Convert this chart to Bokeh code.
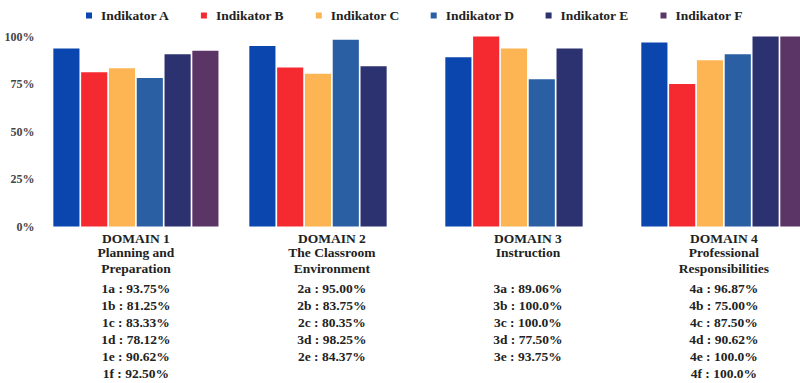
from bokeh.plotting import figure
from bokeh.models import ColumnDataSource, FixedTicker, Range1d
from bokeh.core.properties import value
from bokeh.embed import file_html
from bokeh.resources import INLINE

# ---------------- data ----------------
domains = ["DOMAIN 1", "DOMAIN 2", "DOMAIN 3", "DOMAIN 4"]
subtitles = [["Planning and", "Preparation"],
             ["The Classroom", "Environment"],
             ["Instruction"],
             ["Professional", "Responsibilities"]]
indicators = ["Indikator A", "Indikator B", "Indikator C", "Indikator D", "Indikator E", "Indikator F"]
ind_a = [93.75, 95.00, 89.06, 96.87]
ind_b = [81.25, 83.75, 100.0, 75.00]
ind_c = [83.33, 80.35, 93.75, 87.50]
ind_d = [78.12, 98.25, 77.50, 90.62]
ind_e = [90.62, 84.37, 93.75, 100.0]
ind_f = [92.50, None, None, 100.0]
value_labels = [
    ["1a : 93.75%", "1b : 81.25%", "1c : 83.33%", "1d : 78.12%", "1e : 90.62%", "1f : 92.50%"],
    ["2a : 95.00%", "2b : 83.75%", "2c : 80.35%", "3d : 98.25%", "2e : 84.37%"],
    ["3a : 89.06%", "3b : 100.0%", "3c : 100.0%", "3d : 77.50%", "3e : 93.75%"],
    ["4a : 96.87%", "4b : 75.00%", "4c : 87.50%", "4d : 90.62%", "4e : 100.0%", "4f : 100.0%"],
]
y_ticks = [0, 25, 50, 75, 100]
y_tick_labels = ["0%", "25%", "50%", "75%", "100%"]
colors = ["#0b45ae", "#f52a30", "#fdb452", "#2a60a3", "#2c3170", "#5b3566"]

# ---------------- layout ----------------
W, H = 800, 383
FRAME_LEFT = 45
PX_PER_SLOT = 27.8
FIRST_BAR_PX = 52
GROUP_PITCH = 7.05
ZERO_PX = 226          # screen y of 0%
PX_PER_PCT = 1.9
SERIF = "Liberation Serif"
LEGEND_X0_PX = 88.5    # first legend swatch centre
LEGEND_PITCH_PX = 114.9
LEGEND_Y_PX = 15

x_start = (FRAME_LEFT - FIRST_BAR_PX) / PX_PER_SLOT
x_end = x_start + (W - FRAME_LEFT) / PX_PER_SLOT
y_end = ZERO_PX / PX_PER_PCT
y_start = -(H - ZERO_PX) / PX_PER_PCT


def py_to_data(py):
    return (ZERO_PX - py) / PX_PER_PCT


def px_to_data(px):
    return (px - FIRST_BAR_PX) / PX_PER_SLOT


p = figure(width=W, height=H, output_backend="svg", toolbar_location=None,
           x_range=Range1d(x_start, x_end), y_range=Range1d(y_start, y_end),
           min_border_left=FRAME_LEFT, min_border_right=0, min_border_top=0,
           min_border_bottom=0)
p.outline_line_color = None
p.xgrid.visible = False
p.ygrid.visible = False
p.xaxis.visible = False
p.yaxis.ticker = FixedTicker(ticks=y_ticks)
p.yaxis.major_label_overrides = {t: l for t, l in zip(y_ticks, y_tick_labels)}
p.yaxis.axis_line_color = None
p.yaxis.major_tick_line_color = None
p.yaxis.minor_tick_line_color = None
p.yaxis.major_label_standoff = 5
p.yaxis.major_label_text_font = SERIF
p.yaxis.major_label_text_font_style = "bold"
p.yaxis.major_label_text_font_size = "12px"
p.yaxis.major_label_text_color = "#444444"

series = [ind_a, ind_b, ind_c, ind_d, ind_e, ind_f]
for j, (name, vals, col) in enumerate(zip(indicators, series, colors)):
    xs, tops = [], []
    for g, v in enumerate(vals):
        if v is None:
            continue
        xs.append(g * GROUP_PITCH + j + 0.5)
        tops.append(v)
    src = ColumnDataSource(dict(x=xs, top=tops))
    p.vbar(x="x", top="top", bottom=0, width=0.94, source=src,
           fill_color=col, line_color=None)

# legend (swatches + labels) drawn along the top
lx = [px_to_data(LEGEND_X0_PX + LEGEND_PITCH_PX * i) for i in range(len(indicators))]
ly = [py_to_data(LEGEND_Y_PX)] * len(indicators)
lsrc = ColumnDataSource(dict(x=lx, y=ly, color=colors,
                             tx=[v + 12 / PX_PER_SLOT for v in lx], text=indicators))
p.scatter(x="x", y="y", marker="square", size=6, fill_color="color",
          line_color=None, source=lsrc)
p.text(x="tx", y="y", text="text", source=lsrc, text_align="left",
       text_baseline="middle", text_font=value("Times New Roman"), text_font_style="bold",
       text_font_size="13.5px", text_color="#222222")

# text under groups
tx, ty, tt = [], [], []
for g, dname in enumerate(domains):
    cx = g * GROUP_PITCH + 3
    tx.append(cx); ty.append(py_to_data(238)); tt.append(dname)
    subs = subtitles[g]
    if len(subs) == 2:
        tx += [cx, cx]
        ty += [py_to_data(252), py_to_data(268)]
        tt += subs
    else:
        tx.append(cx); ty.append(py_to_data(252)); tt.append(subs[0])
    for k, lab in enumerate(value_labels[g]):
        tx.append(cx); ty.append(py_to_data(288 + 17 * k)); tt.append(lab)

tsrc = ColumnDataSource(dict(x=tx, y=ty, text=tt))
p.text(x="x", y="y", text="text", source=tsrc, text_align="center",
       text_baseline="middle", text_font=value(SERIF),
       text_font_style="bold", text_font_size="13.5px", text_color="#222222")

open("out.html", "w").write(file_html(p, INLINE))
